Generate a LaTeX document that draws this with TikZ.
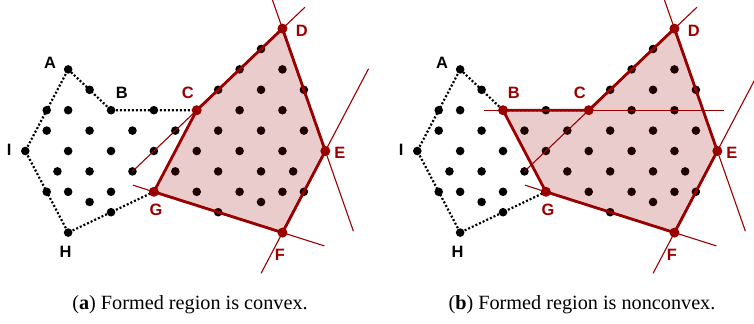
\documentclass[tikz,border=0pt]{standalone}
\usepackage{fontspec}
\setmainfont{Liberation Serif}
\newfontfamily\lblfont{Liberation Sans}
\definecolor{regred}{RGB}{155,0,0}

% lattice points that are not hull corners
\newcommand{\latticepts}{1/2,2/2,6/2,10/2,12/2,11/5,10/4,12/4,3/3,9/3,11/3,13/3,
  1/1,3/1,5/1,7/1,9/1,11/1,13/1,2/0,4/0,6/0,8/0,10/0,12/0,
  1.5/-1,3/-1,5/-1,7/-1,9/-1,11/-1,12.5/-1,1/-2,2/-2,4/-2,8/-2,10/-2,12/-2,13/-2,
  3/-2.5,11/-2.5,4/-3,9/-3}

% corners, dotted hull and the black points
\newcommand{\basepart}{%
  \coordinate (A) at (2,4);
  \coordinate (B) at (4,2);
  \coordinate (C) at (8,2);
  \coordinate (D) at (12,6);
  \coordinate (E) at (14,0);
  \coordinate (F) at (12,-4);
  \coordinate (G) at (6,-2);
  \coordinate (H) at (2,-4);
  \coordinate (I) at (0,0);
  \draw[outline] (A) -- (B) -- (C) -- (D) -- (E) -- (F) -- (G) -- (H) -- (I) -- cycle;
  \foreach \i/\j in \latticepts {\fill (\i,\j) circle (4.3bp);}
  \foreach \v in {A,H,I} {\fill (\v) circle (4.3bp);}
  \node[lbl] (lA) at (1.15,4.31) {A};
  \node[lbl] (lH) at (1.88,-4.94) {H};
  \node[lbl] (lI) at (-0.75,0.05) {I};
  \node[vlbl] (lC) at (7.58,2.85) {C};
  \node[vlbl] (lD) at (12.9,5.9) {D};
  \node[vlbl] (lE) at (14.68,-0.1) {E};
  \node[vlbl] (lF) at (11.88,-5.1) {F};
  \node[vlbl] (lG) at (6.1,-2.9) {G};
  % supporting lines
  \draw[ext,shorten <=-89bp,shorten >=-31bp] (C) -- (D);
  \draw[ext,shorten <=-32bp,shorten >=-85bp] (D) -- (E);
  \draw[ext,shorten <=-93bp,shorten >=-46bp] (E) -- (F);
  \draw[ext,shorten <=-22bp,shorten >=-44bp] (G) -- (F);
}

\begin{document}
\begin{tikzpicture}[x=21.43bp,y=20.4bp,
  outline/.style={draw=black,line width=2.2bp,dash pattern=on 2bp off 2bp},
  edge/.style={draw=regred,line width=2.8bp,line join=round},
  ext/.style={draw=regred,line width=1.1bp},
  region/.style={fill=regred,fill opacity=0.2},
  corner/.style={fill=regred},
  lbl/.style={font=\lblfont\bfseries\fontsize{16.5}{19}\selectfont,inner sep=0pt},
  vlbl/.style={lbl,text=regred},
  caption/.style={font=\fontsize{20.3}{24}\selectfont,anchor=base},
]
\useasboundingbox (-1.1806,-8.4804) rectangle (34.0037,7.4020);
\clip (-1.1806,-8.4804) rectangle (34.0037,7.4020);

% (a) convex
\begin{scope}
  \basepart
  \fill (B) circle (4.3bp);
  \node[lbl] (lB) at (4.5,2.85) {B};
  \path[region] (C) -- (D) -- (E) -- (F) -- (G) -- cycle;
  \draw[edge] (C) -- (D) -- (E) -- (F) -- (G) -- cycle;
  \foreach \v in {C,D,E,F,G} {\fill[corner] (\v) circle (5bp);}
  \node[caption] (capa) at (7.686,-7.745) {(\textbf{a}) Formed region is convex.};
\end{scope}

% (b) nonconvex
\begin{scope}[xshift=392bp]
  \basepart
  \node[vlbl] (lB) at (4.5,2.85) {B};
  \draw[ext,shorten <=-19bp,shorten >=-135bp] (B) -- (C);
  \path[region] (B) -- (C) -- (D) -- (E) -- (F) -- (G) -- cycle;
  \draw[edge] (B) -- (C) -- (D) -- (E) -- (F) -- (G) -- cycle;
  \foreach \v in {B,C,D,E,F,G} {\fill[corner] (\v) circle (5bp);}
  \node[caption] (capb) at (7.686,-7.745) {(\textbf{b}) Formed region is nonconvex.};
\end{scope}
\end{tikzpicture}
\end{document}
